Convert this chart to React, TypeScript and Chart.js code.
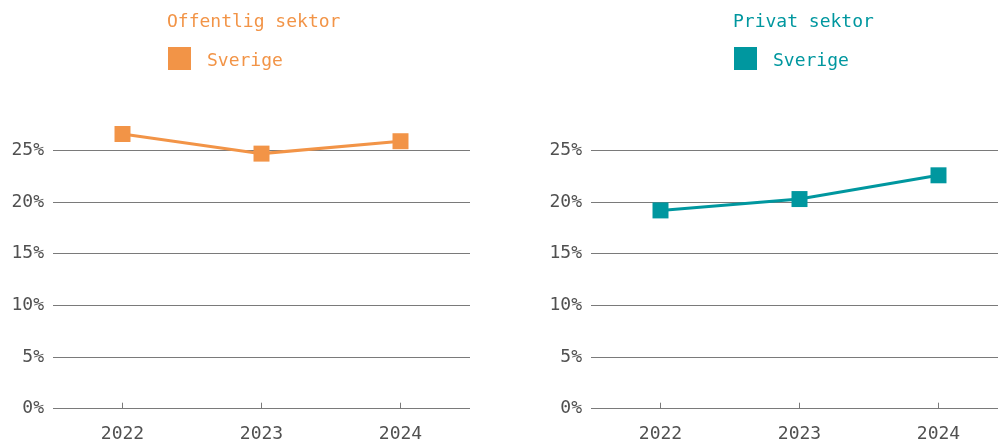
import React, { useEffect, useRef } from "react";
import { Chart, registerables } from "chart.js";

Chart.register(...registerables);

const years = ["2022", "2023", "2024"];
const yTicks = [0, 5, 10, 15, 20, 25];
const offentligSverige = [26.6, 24.7, 25.9];
const privatSverige = [19.2, 20.3, 22.6];

const ORANGE = "#F29447";
const TEAL = "#00979F";
const FONT = "'DejaVu Sans Mono', monospace";
const GRID = "#7a7a7a";
const TICK_TEXT = "#505050";

function LineChart({ data, color, label }: { data: number[]; color: string; label: string }) {
  const ref = useRef<HTMLCanvasElement | null>(null);
  useEffect(() => {
    if (!ref.current) return;
    const chart = new Chart(ref.current, {
      type: "line",
      data: {
        labels: years,
        datasets: [
          {
            label,
            data,
            borderColor: color,
            backgroundColor: color,
            borderWidth: 3,
            pointStyle: "rect",
            pointRadius: 11.3,
            pointHoverRadius: 11.3,
            pointBorderWidth: 0,
            pointBackgroundColor: color,
            clip: false as any,
          },
        ],
      },
      options: {
        animation: false,
        responsive: false,
        maintainAspectRatio: false,
        layout: { padding: { top: 116.7, right: 74, left: 0, bottom: 0 } },
        plugins: { legend: { display: false }, title: { display: false }, tooltip: { enabled: false } },
        scales: {
          x: {
            offset: true,
            border: { display: false },
            grid: { display: true, drawOnChartArea: false, drawTicks: true, tickLength: -6, color: GRID, lineWidth: 1 },
            ticks: { color: TICK_TEXT, font: { family: FONT, size: 18 }, padding: 21 },
            afterFit: (s: any) => {
              s.height = 36.3;
            },
          },
          y: {
            min: 0,
            max: 27.5,
            border: { display: false },
            afterBuildTicks: (s: any) => {
              s.ticks = yTicks.map((v) => ({ value: v }));
            },
            afterFit: (s: any) => {
              s.width = 45;
            },
            grid: { color: GRID, lineWidth: 1, drawTicks: false },
            ticks: {
              color: TICK_TEXT,
              font: { family: FONT, size: 18 },
              padding: 9,
              callback: (v: any) => `${v}%`,
            },
          },
        },
      },
    });
    return () => chart.destroy();
  }, [data, color, label]);
  return <canvas ref={ref} width={536} height={437} style={{ width: 536, height: 437, display: "block" }} />;
}

function Header({ title, color, left }: { title: string; color: string; left: number }) {
  const text: React.CSSProperties = {
    position: "absolute",
    fontFamily: FONT,
    fontSize: 18,
    lineHeight: "18px",
    color,
    whiteSpace: "nowrap",
  };
  return (
    <>
      <div style={{ ...text, left, top: 3.5 }}>{title}</div>
      <div style={{ position: "absolute", left: left + 1, top: 39, width: 23, height: 23, background: color }} />
      <div style={{ ...text, left: left + 40, top: 42.5 }}>Sverige</div>
    </>
  );
}

export default function App() {
  return (
    <div style={{ position: "fixed", left: 8, top: 8, width: 990, height: 436, overflow: "hidden", background: "#fff" }}>
      <div style={{ position: "absolute", left: 0, top: 0 }}>
        <LineChart data={offentligSverige} color={ORANGE} label="Sverige" />
      </div>
      <div style={{ position: "absolute", left: 538, top: 0 }}>
        <LineChart data={privatSverige} color={TEAL} label="Sverige" />
      </div>
      <Header title="Offentlig sektor" color={ORANGE} left={159} />
      <Header title="Privat sektor" color={TEAL} left={725} />
    </div>
  );
}
